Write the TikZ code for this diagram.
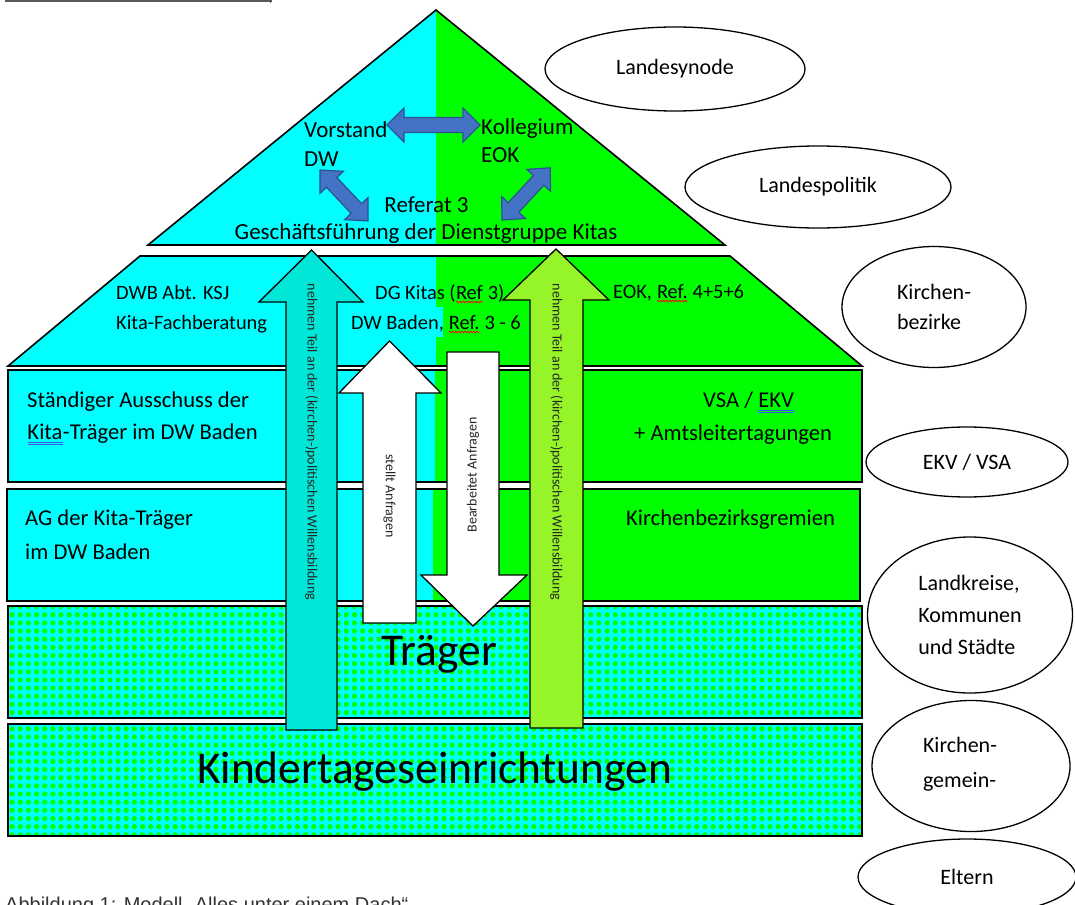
\documentclass[tikz,border=0pt]{standalone}
\usepackage{fontspec}
\setmainfont{Carlito}
\newfontfamily\capfont{Liberation Sans}
\usetikzlibrary{patterns,decorations.pathmorphing,shapes.geometric}
\definecolor{cy}{RGB}{0,255,255}
\definecolor{gr}{RGB}{0,255,0}
\definecolor{tealarr}{RGB}{0,230,215}
\definecolor{limearr}{RGB}{150,245,40}
\definecolor{barrow}{RGB}{68,114,196}
\definecolor{bborder}{RGB}{47,82,143}
\definecolor{ulblue}{RGB}{60,90,230}
\pgfdeclarepatternformonly{gdots}{\pgfqpoint{-1pt}{-1pt}}{\pgfqpoint{9.2pt}{9.2pt}}{\pgfqpoint{8.15pt}{8.15pt}}{%
  \pgfpathcircle{\pgfqpoint{4pt}{4pt}}{2.6pt}\pgfusepath{fill}}
\newcommand\redwave[1]{\tikz[baseline=(w.base)]{\node[anchor=base,inner sep=0pt,outer sep=0pt,draw=none,fill=none](w){#1};\draw[red,line width=0.7pt,decorate,decoration={snake,amplitude=0.9pt,segment length=3pt}]([yshift=-3pt]w.base west)--([yshift=-3pt]w.base east);}}
\newcommand\bluedbl[1]{\tikz[baseline=(w.base)]{\node[anchor=base,inner sep=0pt,outer sep=0pt,draw=none,fill=none](w){#1};\draw[ulblue,line width=0.6pt]([yshift=-3.5pt]w.base west)--([yshift=-3.5pt]w.base east);\draw[ulblue,line width=0.6pt]([yshift=-5pt]w.base west)--([yshift=-5pt]w.base east);}}
\newcommand\dblarr[4]{% start, angle, length, scale of width
  \begin{scope}[shift={#1},rotate=#2]
    \filldraw[fill=barrow,draw=bborder,line width=1.2pt,line join=miter]
      (0,0) -- (17,-17*#4) -- (17,-7.5*#4) -- (#3-17,-7.5*#4) -- (#3-17,-17*#4) -- (#3,0)
      -- (#3-17,17*#4) -- (#3-17,7.5*#4) -- (17,7.5*#4) -- (17,17*#4) -- cycle;
  \end{scope}}
\begin{document}
\begin{tikzpicture}[x=1pt,y=-1pt,
  roof/.style={inner sep=0pt,font=\fontsize{23}{28}\selectfont},
  mid/.style={anchor=base west,inner sep=0pt,font=\fontsize{20.4}{24}\selectfont},
  rowtxt/.style={anchor=base west,inner sep=0pt,font=\fontsize{22.6}{27}\selectfont},
  bigtxt/.style={anchor=base,inner sep=0pt,font=\fontsize{45.5}{50}\selectfont},
  arrtxt/.style={inner sep=0pt,font=\fontsize{14}{16}\selectfont,text=black!85},
  oval/.style={draw=black,line width=1.3pt,ellipse,fill=white,align=left,inner sep=0pt,font=\fontsize{22}{30}\selectfont},
  outline/.style={draw=black,line width=1.6pt,line join=miter},
  blockarrow/.style={draw=black,line width=1.3pt,line join=miter},
]
\useasboundingbox (0,0) rectangle (1075,904);
\fill[white] (0,0) rectangle (1075,904);
% top line
\draw[black!65,line width=2pt] (5,0.8) -- (272,0.8);
\draw[black!65,line width=1pt] (270,0) -- (270,3);
% roof
\fill[cy] (436,10) -- (148,245) -- (436,245) -- cycle;
\fill[gr] (436,10) -- (725,245) -- (436,245) -- cycle;
\draw[outline] (436,10) -- (148,245) -- (725,245) -- cycle;
% second section (trapezoid)
\fill[cy] (140,256) -- (436,256) -- (436,366) -- (8,366) -- cycle;
\fill[gr] (436,256) -- (730,256) -- (862,366) -- (436,366) -- cycle;
\fill[cy] (435,307) rectangle (443,337);
\draw[outline] (140,256) -- (730,256) -- (862,366) -- (8,366) -- cycle;
% row 1
\fill[cy] (8,370) rectangle (435,482);
\fill[gr] (435,370) rectangle (862,482);
\draw[outline] (8,370) rectangle (862,482);
% row 2
\fill[cy] (7,489) rectangle (433,601);
\fill[gr] (433,489) rectangle (860,601);
\draw[outline] (7,489) rectangle (860,601);
% row 3 and 4 (pattern)
\fill[cy] (8,606) rectangle (862,718);
\fill[pattern=gdots,pattern color=gr] (8,606) rectangle (862,718);
\draw[outline] (8,606) rectangle (862,718);
\fill[cy] (8,724) rectangle (862,836);
\fill[pattern=gdots,pattern color=gr] (8,724) rectangle (862,836);
\draw[outline] (8,724) rectangle (862,836);
% big arrows
\filldraw[blockarrow,fill=tealarr] (311.5,250) -- (363,302) -- (337,302) -- (337,730) -- (286,730) -- (286,302) -- (259,302) -- cycle;
\filldraw[blockarrow,fill=limearr] (556,249) -- (609,300) -- (583,300) -- (583,728) -- (530,728) -- (530,300) -- (503,300) -- cycle;
\filldraw[blockarrow,fill=white] (389.5,341) -- (441,393) -- (416,393) -- (416,623) -- (363,623) -- (363,393) -- (339,393) -- cycle;
\filldraw[blockarrow,fill=white] (447,352) -- (499,352) -- (499,575) -- (527,575) -- (473,626) -- (421,575) -- (447,575) -- cycle;
\node[arrtxt,rotate=-90] (tealtxt) at (311.5,442) {nehmen Teil an der (kirchen-)politischen Willensbildung};
\node[arrtxt,rotate=-90] (limetxt) at (556.5,442) {nehmen Teil an der (kirchen-)politischen Willensbildung};
\node[arrtxt,rotate=-90] (stellt) at (389.5,496) {stellt Anfragen};
\node[arrtxt,rotate=90] (bearb) at (473,475) {Bearbeitet Anfragen};
% blue double arrows in roof
\dblarr{(387,125)}{0}{93}{1}
\dblarr{(320,170)}{-46.7}{70}{0.95}
\dblarr{(502,220)}{47.3}{71}{0.95}
% roof texts
\node[roof,anchor=base west] (vorstand) at (304,138) {Vorstand};
\node[roof,anchor=base west] (dw) at (304,167) {DW};
\node[roof,anchor=base west] (kolleg) at (481,135) {Kollegium};
\node[roof,anchor=base west] (eok) at (481,163) {EOK};
\node[roof,anchor=base] (referat) at (426.5,212) {Referat 3};
\node[roof,anchor=base] (gf) at (426,239) {Geschäftsführung der Dienstgruppe Kitas};
% second section texts
\node[mid] (dwb) at (116,299) {DWB Abt. KSJ};
\node[mid] (fach) at (116,329) {Kita-Fachberatung};
\node[mid] (dgk) at (375,299) {DG Kitas (\redwave{Ref} 3)};
\node[mid] (dwbad) at (351,329) {DW Baden, \redwave{Ref.} 3 - 6};
\node[mid] (eokref) at (613,298) {EOK, \redwave{Ref.} 4+5+6};
% row texts
\node[rowtxt] (sta1) at (27,407) {Ständiger Ausschuss der};
\node[rowtxt] (sta2) at (27,439) {\bluedbl{Kita}-Träger im DW Baden};
\node[rowtxt] (ag1) at (25,525) {AG der Kita-Träger};
\node[rowtxt] (ag2) at (25,559) {im DW Baden};
\node[rowtxt] (vsa) at (703,407) {VSA / \bluedbl{EKV\hspace{0.45em}}};
\node[rowtxt] (amt) at (634,440) {+ Amtsleitertagungen};
\node[rowtxt] (kbg) at (626,525) {Kirchenbezirksgremien};
\node[bigtxt] (traeger) at (439,665) {Träger};
\node[bigtxt] (kita) at (434.5,783) {Kindertageseinrichtungen};
% ellipses
\node[oval,minimum width=260pt,minimum height=84pt] (synode) at (675,69) {Landesynode};
\node[oval,minimum width=266pt,minimum height=82pt] (politik) at (818,187) {Landespolitik};
\node[oval,minimum width=184pt,minimum height=121pt] (bezirke) at (934,307) {Kirchen-\\bezirke};
\node[oval,minimum width=202pt,minimum height=70pt] (ekv) at (967,462) {EKV / VSA};
\node[oval,minimum width=205pt,minimum height=156pt,font=\fontsize{22}{32}\selectfont] (kreise) at (970,615) {Landkreise,\\Kommunen\\und Städte};
\node[oval,minimum width=198pt,minimum height=131pt] (gemein) at (971,766) {};
\node[inner sep=0pt,align=left,font=\fontsize{22}{35}\selectfont] (gemeintxt) at (960,764) {Kirchen-\\gemein-};
\node[oval,minimum width=218pt,minimum height=76pt] (eltern) at (967,877) {Eltern};
% caption (cut off at the bottom edge, as in the reference)
\node[anchor=base west,inner sep=0pt,font=\capfont\fontsize{20}{24}\selectfont,text=black!80] (caption) at (5,911) {Abbildung 1: Modell „Alles unter einem Dach“};
\end{tikzpicture}
\end{document}
